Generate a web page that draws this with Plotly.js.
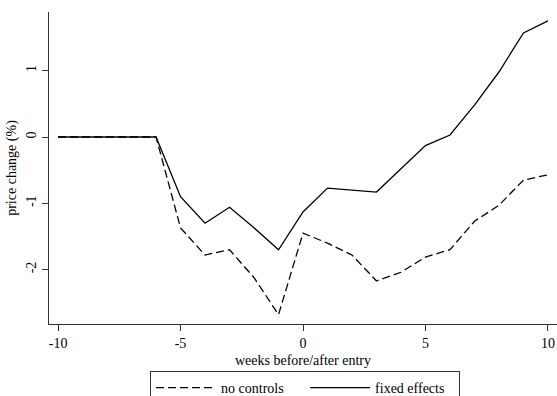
<!DOCTYPE html>
<html>
<head>
<meta charset="utf-8">
<script src="https://cdn.plot.ly/plotly-3.0.1.min.js"></script>
<style>html,body{margin:0;padding:0;background:#fff;}#chart{width:557px;height:396px;}</style>
</head>
<body>
<div id="chart"></div>
<script>
const weeks = [-10,-9,-8,-7,-6,-5,-4,-3,-2,-1,0,1,2,3,4,5,6,7,8,9,10];
const noControls = [0,0,0,0,0,-1.37,-1.78,-1.70,-2.12,-2.68,-1.45,-1.60,-1.78,-2.17,-2.04,-1.81,-1.70,-1.27,-1.03,-0.65,-0.57];
const fixedEffects = [0,0,0,0,0,-0.90,-1.30,-1.06,-1.37,-1.70,-1.13,-0.77,-0.80,-0.83,-0.48,-0.13,0.03,0.48,0.98,1.57,1.75];
const xTicks = [-10,-5,0,5,10];
const yTicks = [-2,-1,0,1];
const seriesNames = ["no controls","fixed effects"];

const font = {family:"'Liberation Serif', 'Times New Roman', Times, serif", size:14, color:"#000"};
const traces = [
  {x:weeks, y:noControls, name:seriesNames[0], mode:"lines", line:{color:"#000", width:1.3, dash:"8px,4px"}},
  {x:weeks, y:fixedEffects, name:seriesNames[1], mode:"lines", line:{color:"#000", width:1.3}}
];
const layout = {
  width:557, height:396,
  margin:{l:49, r:0, t:12, b:72, autoexpand:false},
  paper_bgcolor:"#fff", plot_bgcolor:"#fff",
  font:font,
  showlegend:true,
  xaxis:{range:[-10.37,10.37], tickvals:xTicks, ticktext:xTicks.map(String), ticks:"outside", ticklen:6, tickcolor:"#333",
    showline:true, linecolor:"#333", linewidth:1, showgrid:false, zeroline:false, automargin:false,
    title:{text:"weeks before/after entry", font:font, standoff:5}},
  yaxis:{range:[-2.82,1.885], tickvals:yTicks, ticktext:yTicks.map(String), ticks:"outside", ticklen:6, tickcolor:"#333",
    tickangle:-90, showline:true, linecolor:"#333", linewidth:1, showgrid:false, zeroline:false, automargin:false,
    title:{text:"price change (%)", font:font, standoff:4}},
  legend:{orientation:"h", x:0.199, xanchor:"left", y:-0.151, yanchor:"top", bordercolor:"#333", borderwidth:1,
    font:font, itemwidth:60, entrywidth:79, entrywidthmode:"pixels", bgcolor:"#fff"}
};
Plotly.newPlot("chart", traces, layout, {displayModeBar:false, staticPlot:true});
</script>
</body>
</html>
